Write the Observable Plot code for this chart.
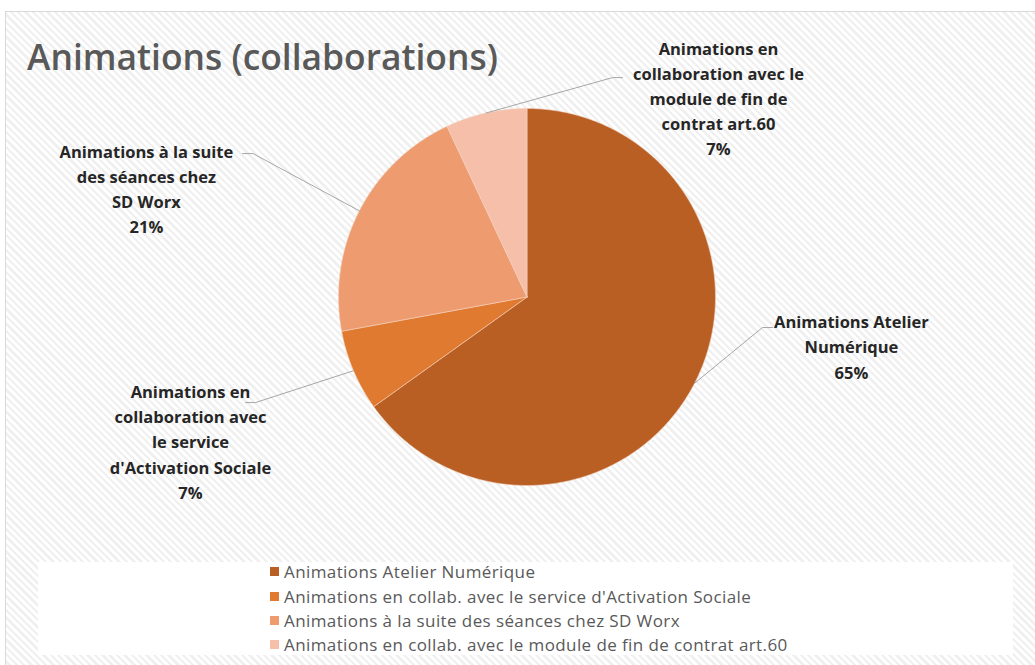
<!DOCTYPE html>
<html><head><meta charset="utf-8">
<script src="https://cdn.jsdelivr.net/npm/d3@7"></script>
<script src="https://cdn.jsdelivr.net/npm/@observablehq/plot@0.6"></script>
<style>
body{margin:0;background:#fff;}
#wrap{position:relative;width:1035px;height:665px;overflow:hidden;font-family:'Open Sans',sans-serif;}
#frame{position:absolute;left:5px;top:11px;width:1040px;height:670px;border:1px solid #d9d9d9;
  background:repeating-linear-gradient(45deg,#ffffff 0 2.8px,#f0f0f0 2.8px 5.2px);}
#title{position:absolute;left:27px;top:35px;font-family:'Open Sans',sans-serif;font-weight:600;font-size:35.4px;color:#595959;white-space:nowrap;line-height:1.2;}
#chart{position:absolute;left:0;top:0;}
#legendBox{position:absolute;left:38px;top:562px;width:975px;height:93px;background:#fff;}
#legend{position:absolute;left:270px;top:559.5px;}
.item{display:flex;align-items:center;height:24.4px;font-size:17px;letter-spacing:0.4px;color:#595959;white-space:nowrap;}
.sw{width:9px;height:9px;margin-right:5px;flex:none;}
</style></head>
<body><div id="wrap"><div id="frame"></div><div id="title"></div><div id="chart"></div><div id="legendBox"></div><div id="legend"></div></div>
<script>
const title = "Animations (collaborations)";
const categories = [
  "Animations Atelier Numérique",
  "Animations en collab. avec le service d'Activation Sociale",
  "Animations à la suite des séances chez SD Worx",
  "Animations en collab. avec le module de fin de contrat art.60"
];
const values = [28, 3, 9, 3];
const labelTexts = [
  "Animations Atelier\nNumérique",
  "Animations en\ncollaboration avec\nle service\nd'Activation Sociale",
  "Animations à la suite\ndes séances chez\nSD Worx",
  "Animations en\ncollaboration avec le\nmodule de fin de\ncontrat art.60"
];
const colors = ["#B95F24", "#E07A30", "#EE9B6F", "#F5BFAA"];

// label layout (pie-radius units relative to pie centre): text block centre, elbow and end of leader
const labelLayout = [
  {tx: 1.721, ty: -0.257, ex: 1.249, ey: -0.162, hx: 1.302},
  {tx: -1.785, ty: -0.761, ex: -1.440, ey: -0.560, hx: -1.493},
  {tx: -2.019, ty: 0.581, ex: -1.454, ey: 0.761, hx: -1.509},
  {tx: 1.016, ty: 1.061, ex: 0.454, ey: 1.164, hx: 0.507}
];

document.getElementById("title").textContent = title;

const total = d3.sum(values);
const arcs = d3.pie().sort(null)(values);
const slicePts = [];
arcs.forEach((a, i) => {
  const name = categories[i];
  slicePts.push({name, x: 0, y: 0});
  const n = Math.max(2, Math.ceil((a.endAngle - a.startAngle) / (Math.PI / 360)));
  for (let k = 0; k <= n; k++) {
    const t = a.startAngle + (a.endAngle - a.startAngle) * k / n;
    slicePts.push({name, x: Math.sin(t), y: Math.cos(t)});
  }
  slicePts.push({name, x: 0, y: 0});
});

const labels = arcs.map((a, i) => ({
  name: categories[i],
  x: labelLayout[i].tx, y: labelLayout[i].ty,
  text: labelTexts[i] + "\n" + Math.round(values[i] / total * 100) + "%"
}));
const leaders = [];
arcs.forEach((a, i) => {
  const m = (a.startAngle + a.endAngle) / 2;
  const L = labelLayout[i];
  leaders.push({name: categories[i], x: Math.sin(m), y: Math.cos(m)});
  leaders.push({name: categories[i], x: L.ex, y: L.ey});
  leaders.push({name: categories[i], x: L.hx, y: L.ey});
});

const chart = Plot.plot({
  width: 1035, height: 560, margin: 0,
  x: {domain: [-1, 1], range: [338, 715], axis: null},
  y: {domain: [-1, 1], range: [485, 108], axis: null},
  color: {domain: categories, range: colors},
  style: {background: "transparent", overflow: "visible"},
  marks: [
    Plot.line(slicePts, {x: "x", y: "y", z: "name", fill: "name", stroke: "#f3d2bf", strokeWidth: 0.6, curve: "linear"}),
    Plot.line(leaders, {x: "x", y: "y", z: "name", stroke: "#a6a6a6", strokeWidth: 1}),
    Plot.text(labels, {x: "x", y: "y", text: "text", fontFamily: "Open Sans", fontWeight: "bold", fontSize: 16.5,
      fill: "#262626", lineHeight: 1.52, textAnchor: "middle", lineAnchor: "middle"})
  ]
});
document.getElementById("chart").appendChild(chart);

const leg = document.getElementById("legend");
categories.forEach((c, i) => {
  const row = document.createElement("div"); row.className = "item";
  const sw = document.createElement("span"); sw.className = "sw"; sw.style.background = colors[i];
  const t = document.createElement("span"); t.textContent = c;
  row.appendChild(sw); row.appendChild(t); leg.appendChild(row);
});
</script></body></html>
